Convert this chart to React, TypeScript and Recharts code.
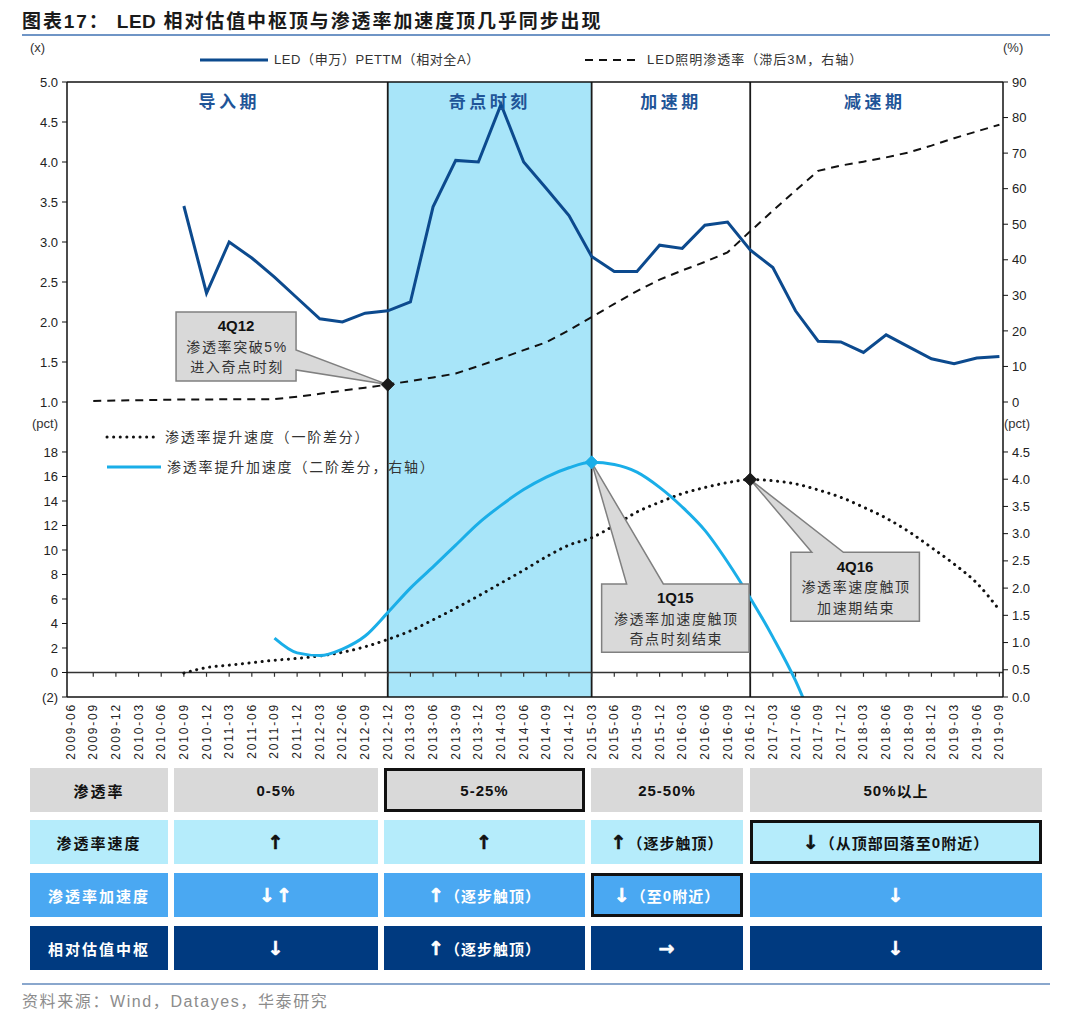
import React from 'react';
import {
  ComposedChart, Line, XAxis, YAxis, ReferenceArea, ReferenceLine, ReferenceDot,
} from 'recharts';

// quarterly categories, 2009-06 .. 2019-09
const quarters = [
  '2009-06', '2009-09', '2009-12',
  '2010-03', '2010-06', '2010-09', '2010-12',
  '2011-03', '2011-06', '2011-09', '2011-12',
  '2012-03', '2012-06', '2012-09', '2012-12',
  '2013-03', '2013-06', '2013-09', '2013-12',
  '2014-03', '2014-06', '2014-09', '2014-12',
  '2015-03', '2015-06', '2015-09', '2015-12',
  '2016-03', '2016-06', '2016-09', '2016-12',
  '2017-03', '2017-06', '2017-09', '2017-12',
  '2018-03', '2018-06', '2018-09', '2018-12',
  '2019-03', '2019-06', '2019-09',
];

// LED (申万) PETTM 相对全A, x
const ledPe = [
  null, null, null, null, null, 3.45, 2.36, 3.0, 2.8, 2.56, 2.3, 2.04, 2.0, 2.11, 2.14,
  2.25, 3.44, 4.02, 4.0, 4.72, 4.0, 3.67, 3.33,
  2.82, 2.63, 2.63, 2.96, 2.92, 3.21, 3.25, 2.9,
  2.68, 2.14, 1.76, 1.75, 1.62, 1.84, 1.69, 1.54, 1.48, 1.55, 1.57,
];

// LED照明渗透率 (滞后3M), %
const penetration = [
  null, 0.3, 0.4, 0.5, 0.6, 0.7, 0.7, 0.8, 0.8, 0.8, 1.5, 2.3, 3.2, 4.0, 4.9,
  5.9, 6.9, 8.0, 10.1, 12.3, 14.6, 16.8, 20.2,
  23.9, 27.6, 31.2, 34.4, 37.0, 39.4, 42.1, 48.0,
  53.8, 59.5, 65.0, 66.5, 67.6, 68.8, 70.2, 72.1, 74.2, 76.1, 78.0,
];

// 渗透率提升速度 (一阶差分), pct
const speed = [
  null, null, null, null, null, -0.05, 0.4, 0.6, 0.8, 1.0, 1.15, 1.35, 1.65, 2.1, 2.7,
  3.4, 4.3, 5.25, 6.25, 7.3, 8.35, 9.45, 10.4,
  11.0, 12.0, 13.1, 13.9, 14.6, 15.1, 15.5, 15.75,
  15.65, 15.4, 14.9, 14.3, 13.5, 12.6, 11.5, 10.2, 8.85, 7.3, 5.1,
];

// 渗透率提升加速度 (二阶差分), pct
const accel = [
  null, null, null, null, null, null, null, null, null, 1.08, 0.81, 0.76, 0.88, 1.12, 1.55,
  2.0, 2.39, 2.79, 3.19, 3.52, 3.81, 4.04, 4.21,
  4.31, 4.27, 4.13, 3.85, 3.49, 3.06, 2.48, 1.82,
  1.1, 0.3, -0.7, null, null, null, null, null, null, null, null,
];

const peTicks = [1, 1.5, 2, 2.5, 3, 3.5, 4, 4.5, 5];
const penTicks = [0, 10, 20, 30, 40, 50, 60, 70, 80, 90];
const speedTicks = [-2, 0, 2, 4, 6, 8, 10, 12, 14, 16, 18];
const accelTicks = [0, 0.5, 1, 1.5, 2, 2.5, 3, 3.5, 4, 4.5];

const periods = [
  { name: '导入期', from: '2009-06', to: '2012-12' },
  { name: '奇点时刻', from: '2012-12', to: '2015-03' },
  { name: '加速期', from: '2015-03', to: '2016-12' },
  { name: '减速期', from: '2016-12', to: '2019-09' },
];
const dividers = ['2012-12', '2015-03', '2016-12'];

const note4Q12 = ['4Q12', '渗透率突破5%', '进入奇点时刻'];
const note1Q15 = ['1Q15', '渗透率加速度触顶', '奇点时刻结束'];
const note4Q16 = ['4Q16', '渗透率速度触顶', '加速期结束'];

const rowHeads = ['渗透率', '渗透率速度', '渗透率加速度', '相对估值中枢'];
const rowCells = [
  ['0-5%', '5-25%', '25-50%', '50%以上'],
  ['↑', '↑', '↑（逐步触顶）', '↓（从顶部回落至0附近）'],
  ['↓↑', '↑（逐步触顶）', '↓（至0附近）', '↓'],
  ['↓', '↑（逐步触顶）', '→', '↓'],
];

const topData = quarters.map((q, i) => ({ q, pe: ledPe[i], pen: penetration[i] }));
const bottomData = quarters.map((q, i) => ({ q, speed: speed[i], accel: accel[i] }));

const LATIN = "'Liberation Sans', Arial, 'Noto Sans CJK SC', sans-serif";
const CJK = "'Liberation Sans', 'Noto Sans CJK SC', sans-serif";
const DARK_BLUE = '#0c4a8e';
const LIGHT_BLUE = '#1aaee8';
const SHADE = '#a8e5f9';
const tickStyle = { fill: '#222', fontSize: 13, fontFamily: LATIN };
const axisLine = { stroke: '#111', strokeWidth: 1.5 };

function QuarterTick({ x, y, payload }: any) {
  return (
    <text
      x={x} y={y} dy={4}
      transform={`rotate(-90 ${x} ${y})`}
      textAnchor="end"
      fontSize={12}
      letterSpacing={1.8}
      fill="#222"
      fontFamily={LATIN}
    >
      {payload.value}
    </text>
  );
}

function Callout({ cx, cy, box, side, base, lines, marker }: any) {
  const [l, t, r, b] = box;
  const d = side === 'top'
    ? `M${l},${t} L${base[0]},${t} L0,0 L${base[1]},${t} L${r},${t} L${r},${b} L${l},${b} Z`
    : `M${l},${t} L${r},${t} L${r},${base[0]} L0,0 L${r},${base[1]} L${r},${b} L${l},${b} Z`;
  const mx = (l + r) / 2;
  return (
    <g transform={`translate(${cx},${cy})`}>
      <path d={d} fill="#d9d9d9" stroke="#808080" strokeWidth={1.5} />
      <text x={mx} y={t + 14} textAnchor="middle" dominantBaseline="central"
        fontSize={15} fontWeight="bold" fontFamily={LATIN} fill="#111">{lines[0]}</text>
      {lines.slice(1).map((s: string, i: number) => (
        <text key={s} x={mx + 1} y={t + 35 + i * 20.5} textAnchor="middle" dominantBaseline="central"
          fontSize={14} letterSpacing={1.6} fontFamily={CJK} fill="#333">{s}</text>
      ))}
      <path d="M0,-6.5 L6.5,0 L0,6.5 L-6.5,0 Z" fill={marker} stroke={marker} />
    </g>
  );
}

function PeriodLayers(showLabels: boolean) {
  return [
    ...periods.map((p) => (
      <ReferenceArea
        key={`area-${p.name}`}
        yAxisId="left"
        x1={p.from}
        x2={p.to}
        fill={p.name === '奇点时刻' ? SHADE : 'none'}
        fillOpacity={1}
        stroke="none"
        ifOverflow="extendDomain"
        label={showLabels ? {
          value: p.name, position: 'insideTop', offset: 14,
          fill: '#1f5598', fontSize: 17, fontWeight: 700, letterSpacing: 3.5, fontFamily: CJK,
        } : undefined}
      />
    )),
    ...dividers.map((q) => (
      <ReferenceLine key={`div-${q}`} yAxisId="left" x={q} stroke="#1a1a1a" strokeWidth={1.8} />
    )),
  ];
}

function LegendLine({ left, top, width, dash, color, w, cap, label, fontSize, spacing }: any) {
  return (
    <>
      <svg style={{ position: 'absolute', left, top: top - 5, overflow: 'visible' }} width={width} height={10}>
        <line x1={0} y1={5} x2={width} y2={5} stroke={color} strokeWidth={w}
          strokeDasharray={dash} strokeLinecap={cap} />
      </svg>
      <div style={{
        position: 'absolute', left: left + width + 6, top: top - 10, height: 20, lineHeight: '20px',
        fontSize, letterSpacing: spacing, color: '#333', fontFamily: CJK, whiteSpace: 'nowrap',
      }}>{label}</div>
    </>
  );
}

function CellText({ txt }: { txt: string }) {
  return (
    <>
      {Array.from(txt).map((ch, i) => ('↑↓→'.includes(ch) ? (
        <span key={i} style={{
          fontFamily: "'DejaVu Sans', sans-serif", fontSize: 19, fontWeight: 900,
          lineHeight: '20px', WebkitTextStroke: '0.6px currentColor',
        }}>{ch}</span>
      ) : <span key={i}>{ch}</span>))}
    </>
  );
}

const colEdges = [[30, 168], [174, 378], [384, 585], [591, 743], [750, 1042]];
const rowTops = [768, 820, 873, 926];
const rowBg = ['#d9d9d9', '#b5ecfb', '#4aa8f2', '#003a80'];
const rowFg = ['#111', '#111', '#fff', '#fff'];
const boxed = ['0-2', '1-4', '2-3'];

export default function App() {
  return (
    <div style={{
      position: 'absolute', left: 0, top: 0, width: 1080, height: 1014,
      background: '#fff', fontFamily: LATIN, overflow: 'hidden',
    }}>
      <div style={{
        position: 'absolute', left: 22, top: 6, fontSize: 19, fontWeight: 700,
        letterSpacing: 1.9, color: '#1a1a1a', fontFamily: CJK, whiteSpace: 'nowrap',
      }}>
        图表17：&nbsp;<span style={{ letterSpacing: 0.5 }}>LED</span> 相对估值中枢顶与渗透率加速度顶几乎同步出现
      </div>
      <div style={{ position: 'absolute', left: 22, top: 34, width: 1028, height: 1.5, background: '#6f95c6' }} />

      <div style={{ position: 'absolute', left: 30, top: 40, fontSize: 13, color: '#333' }}>(x)</div>
      <div style={{ position: 'absolute', left: 1003, top: 40, fontSize: 13, color: '#333' }}>(%)</div>

      <LegendLine left={200} top={60} width={68} color={DARK_BLUE} w={3}
        label="LED（申万）PETTM（相对全A）" fontSize={13} spacing={0.6} />
      <LegendLine left={585} top={60} width={56} color="#111" w={2} dash="8 6"
        label="LED照明渗透率（滞后3M，右轴）" fontSize={13} spacing={1} />

      <div style={{ position: 'absolute', left: 0, top: 402 }}>
        <ComposedChart width={1080} height={367} data={bottomData}
          margin={{ top: 0, right: 0, bottom: 0, left: 0 }}>
          <XAxis dataKey="q" scale="point" padding={{ left: 3.6, right: 3.6 }} interval={0}
            height={72} tick={<QuarterTick />} tickLine={false} tickSize={4} tickMargin={2}
            axisLine={axisLine} />
          <YAxis yAxisId="left" domain={[-2, 22.08]} ticks={speedTicks} allowDataOverflow interval={0}
            tickFormatter={(v: number) => (v < 0 ? `(${Math.abs(v)})` : String(v))}
            width={67} tick={tickStyle} tickSize={5} tickMargin={4} axisLine={axisLine}
            tickLine={{ stroke: '#111' }} />
          <YAxis yAxisId="right" orientation="right" domain={[0, 5.418]} ticks={accelTicks}
            allowDataOverflow interval={0} tickFormatter={(v: number) => v.toFixed(1)}
            width={77} tick={tickStyle} tickSize={5} tickMargin={4} axisLine={axisLine}
            tickLine={{ stroke: '#111' }} />
          {PeriodLayers(false)}
          <ReferenceLine yAxisId="left" y={0} stroke="#333" strokeWidth={1.5} />
          {quarters.slice(1).map((q) => (
            <ReferenceLine key={`zt-${q}`} yAxisId="left" stroke="#333" strokeWidth={1.2}
              ifOverflow="visible" segment={[{ x: q, y: 0 }, { x: q, y: -0.35 }]} />
          ))}
          <Line yAxisId="left" dataKey="speed" type="monotone" stroke="#111" strokeWidth={3}
            strokeDasharray="0.1 6.5" strokeLinecap="round"
            dot={false} activeDot={false} isAnimationActive={false} />
          <Line yAxisId="right" dataKey="accel" type="monotone" stroke={LIGHT_BLUE} strokeWidth={3}
            dot={false} activeDot={false} isAnimationActive={false} />
          <ReferenceDot yAxisId="right" x={quarters[23]} y={accel[23] as number}
            shape={(p: any) => (
              <Callout cx={p.cx} cy={p.cy} box={[10, 121.6, 157.4, 190]} side="top"
                base={[35, 71.7]} lines={note1Q15} marker={LIGHT_BLUE} />
            )} />
          <ReferenceDot yAxisId="left" x={quarters[30]} y={speed[30] as number}
            shape={(p: any) => (
              <Callout cx={p.cx} cy={p.cy} box={[40.6, 72.7, 169.2, 141.7]} side="top"
                base={[61.6, 93.2]} lines={note4Q16} marker="#1a1a1a" />
            )} />
        </ComposedChart>
      </div>

      <div style={{ position: 'absolute', left: 0, top: 0 }}>
        <ComposedChart width={1080} height={412} data={topData}
          margin={{ top: 82, right: 0, bottom: 10, left: 0 }}>
          <XAxis dataKey="q" scale="point" hide padding={{ left: 3.6, right: 3.6 }} />
          <YAxis yAxisId="left" domain={[1, 5]} ticks={peTicks} allowDataOverflow interval={0}
            tickFormatter={(v: number) => v.toFixed(1)} width={67} tick={tickStyle}
            tickSize={5} tickMargin={4} axisLine={axisLine} tickLine={{ stroke: '#111' }} />
          <YAxis yAxisId="right" orientation="right" domain={[0, 90]} ticks={penTicks} allowDataOverflow
            interval={0} width={77} tick={tickStyle} tickSize={5} tickMargin={4}
            axisLine={axisLine} tickLine={{ stroke: '#111' }} />
          {PeriodLayers(true)}
          <ReferenceLine yAxisId="left" y={5} stroke="#111" strokeWidth={1.5} />
          <Line yAxisId="right" dataKey="pen" stroke="#111" strokeWidth={2} strokeDasharray="8 6"
            dot={false} activeDot={false} isAnimationActive={false} />
          <Line yAxisId="left" dataKey="pe" stroke={DARK_BLUE} strokeWidth={3}
            dot={false} activeDot={false} isAnimationActive={false} />
          <ReferenceDot yAxisId="right" x={quarters[14]} y={penetration[14] as number}
            shape={(p: any) => (
              <Callout cx={p.cx} cy={p.cy} box={[-211.7, -72.6, -91.7, -3.6]} side="right"
                base={[-34.6, -14.6]} lines={note4Q12} marker="#1a1a1a" />
            )} />
        </ComposedChart>
      </div>

      <div style={{ position: 'absolute', left: 32, top: 416, fontSize: 13, color: '#333' }}>(pct)</div>
      <div style={{ position: 'absolute', left: 1004, top: 416, fontSize: 13, color: '#333' }}>(pct)</div>

      <LegendLine left={107} top={437} width={52} color="#111" w={3} dash="0.1 6.5" cap="round"
        label="渗透率提升速度（一阶差分）" fontSize={14} spacing={1.8} />
      <LegendLine left={107} top={467} width={54} color={LIGHT_BLUE} w={3}
        label="渗透率提升加速度（二阶差分，右轴）" fontSize={14} spacing={1.8} />

      {rowHeads.map((head, r) => (
        [head, ...rowCells[r]].map((txt, c) => {
          const [x0, x1] = colEdges[c];
          const hasBox = boxed.includes(`${r}-${c}`);
          return (
            <div key={`${r}-${c}`} style={{
              position: 'absolute', left: x0, top: rowTops[r], width: x1 - x0, height: 44,
              background: rowBg[r], color: rowFg[r], boxSizing: 'border-box',
              border: hasBox ? '3px solid #111' : 'none',
              display: 'flex', alignItems: 'center', justifyContent: 'center',
              fontSize: 15, fontWeight: 700, fontFamily: CJK,
              letterSpacing: c === 0 ? 2 : 1, whiteSpace: 'nowrap',
            }}><CellText txt={txt} /></div>
          );
        })
      ))}

      <div style={{ position: 'absolute', left: 22, top: 983, width: 1028, height: 2, background: '#8aa7cd' }} />
      <div style={{
        position: 'absolute', left: 22, top: 988, fontSize: 16, color: '#8c8c8c',
        fontFamily: CJK, letterSpacing: 1.6, whiteSpace: 'nowrap',
      }}>资料来源：Wind，Datayes，华泰研究</div>
    </div>
  );
}
